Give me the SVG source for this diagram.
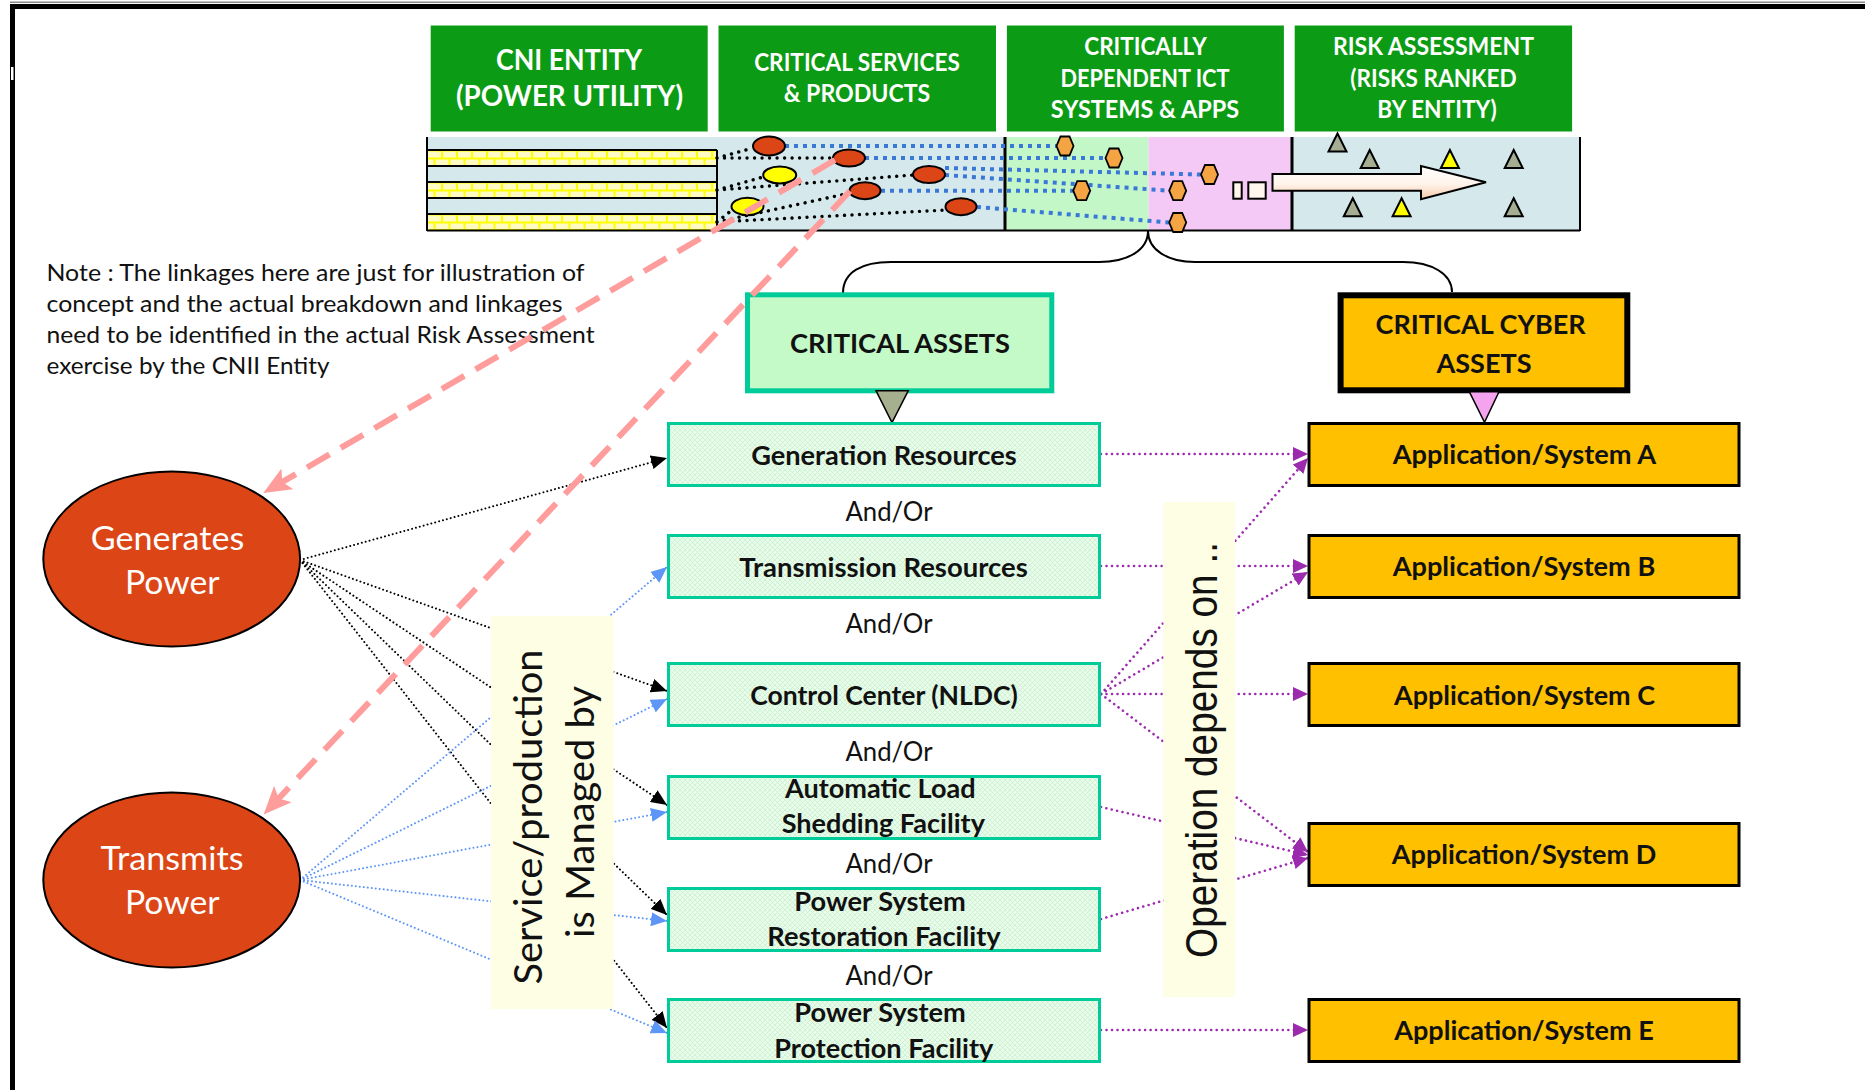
<svg xmlns="http://www.w3.org/2000/svg" width="1865" height="1090" viewBox="0 0 1865 1090">
<defs>
<style>
.sans{font-family:Lato,"Liberation Sans",sans-serif}
.hdr{fill:#0c9b14}
.hdr-t{font-family:Lato,"Liberation Sans",sans-serif;font-weight:700;fill:#fff;text-anchor:middle}
.asset{fill:url(#mint);stroke:#00cc99;stroke-width:3}
.asset-t{font-family:Lato,"Liberation Sans",sans-serif;font-weight:700;font-size:26px;fill:#111;text-anchor:middle}
.andor{font-family:Lato,"Liberation Sans",sans-serif;font-size:26px;fill:#111;text-anchor:middle}
.app{fill:#ffc000;stroke:#000;stroke-width:3}
.app-t{font-family:Lato,"Liberation Sans",sans-serif;font-weight:700;font-size:26px;fill:#111;text-anchor:middle}
.oval{fill:#dc4516;stroke:#000;stroke-width:2}
.oval-t{font-family:Lato,"Liberation Sans",sans-serif;font-size:33px;fill:#fff;text-anchor:middle}
.note{font-family:Lato,"Liberation Sans",sans-serif;font-size:22.8px;fill:#111}
.band{fill:#fefee4}
.dk{fill:none;stroke:#000;stroke-width:2;stroke-dasharray:0.01 4;stroke-linecap:round}
.db{fill:none;stroke:#5e96f7;stroke-width:2;stroke-dasharray:0.01 4;stroke-linecap:round}
.dp{fill:none;stroke:#9c2aae;stroke-width:2.6;stroke-dasharray:0.01 5.5;stroke-linecap:round}
.sk{fill:none;stroke:#000;stroke-width:3.4;stroke-dasharray:0.01 7.5;stroke-linecap:round}
.sb{fill:none;stroke:#3a78d8;stroke-width:4;stroke-dasharray:4 5}
.pk{fill:none;stroke:#ff9c9c;stroke-width:6;stroke-dasharray:26 13}
.red{fill:#dc4516;stroke:#000;stroke-width:2}
.yel{fill:#ffff00;stroke:#000;stroke-width:2}
.hexa{fill:#f4a443;stroke:#000;stroke-width:1.8}
.tri-g{fill:#a5ad93;stroke:#000;stroke-width:2}
.tri-y{fill:#ffff00;stroke:#000;stroke-width:2}
.strip{fill:#d5e9ed}
.edge{fill:none;stroke:#000}
</style>
<pattern id="mint" width="5" height="5" patternUnits="userSpaceOnUse">
<rect width="5" height="5" fill="#e9fbeb"/>
<path d="M0,0 L5,5 M5,0 L0,5" stroke="#c6f0cb" stroke-width="0.8"/>
</pattern>
<pattern id="brick" width="15" height="16" patternUnits="userSpaceOnUse" x="427" y="150">
<rect width="15" height="16" fill="#ffff00"/>
<rect x="1" y="1.5" width="13" height="6" fill="#fffbc2"/>
<rect x="-6.5" y="9.5" width="13" height="5.5" fill="#fffbc2"/>
<rect x="8.5" y="9.5" width="13" height="5.5" fill="#fffbc2"/>
</pattern>
<linearGradient id="arrowfill" x1="0" y1="0" x2="0" y2="1">
<stop offset="0" stop-color="#ffffff"/>
<stop offset="0.55" stop-color="#fff3ea"/>
<stop offset="1" stop-color="#f8c9a6"/>
</linearGradient>
<polygon id="hex" points="-8.5,0 -4.5,-9.5 4.5,-9.5 8.5,0 4.5,9.5 -4.5,9.5"/>
<polygon id="tri" points="0,0 9,18 -9,18"/>
<marker id="ak" markerUnits="userSpaceOnUse" markerWidth="16" markerHeight="14" refX="16" refY="7" orient="auto">
<path d="M0,0 L16,7 L0,14 Z" fill="#000"/>
</marker>
<marker id="ab" markerUnits="userSpaceOnUse" markerWidth="16" markerHeight="14" refX="16" refY="7" orient="auto">
<path d="M0,0 L16,7 L0,14 Z" fill="#5e96f7"/>
</marker>
<marker id="ap" markerUnits="userSpaceOnUse" markerWidth="15" markerHeight="14" refX="15" refY="7" orient="auto">
<path d="M0,0 L15,7 L0,14 Z" fill="#9c2aae"/>
</marker>
<marker id="apk" markerUnits="userSpaceOnUse" markerWidth="28" markerHeight="24" refX="26" refY="12" orient="auto">
<path d="M0,0 L28,12 L0,24 L6,12 Z" fill="#ff9c9c"/>
</marker>
</defs>

<rect width="1865" height="1090" fill="#fff"/>

<!-- page frame -->
<g id="frame">
<rect x="10" y="1.5" width="1855" height="1.5" fill="#8a8a8a"/>
<rect x="10" y="4" width="1855" height="5" fill="#000"/>
<rect x="10" y="4" width="5" height="1086" fill="#000"/>
<rect x="11" y="67" width="2.5" height="13" fill="#fff"/>
</g>

<!-- column headers -->
<g id="hdr-cni">
<rect class="hdr" x="430.7" y="25.5" width="277" height="106"/>
<text class="hdr-t" x="569" y="70" font-size="29" textLength="146" lengthAdjust="spacingAndGlyphs">CNI ENTITY</text>
<text class="hdr-t" x="569.5" y="106" font-size="29" textLength="227" lengthAdjust="spacingAndGlyphs">(POWER UTILITY)</text>
</g>
<g id="hdr-services">
<rect class="hdr" x="718.5" y="25.5" width="277.5" height="106"/>
<text class="hdr-t" x="857" y="71" font-size="24" textLength="205.6" lengthAdjust="spacingAndGlyphs">CRITICAL SERVICES</text>
<text class="hdr-t" x="857" y="101.7" font-size="24" textLength="146.5" lengthAdjust="spacingAndGlyphs">&amp; PRODUCTS</text>
</g>
<g id="hdr-ict">
<rect class="hdr" x="1006.9" y="25.5" width="277" height="106"/>
<text class="hdr-t" x="1145.5" y="55" font-size="24" textLength="122.5" lengthAdjust="spacingAndGlyphs">CRITICALLY</text>
<text class="hdr-t" x="1145" y="87.3" font-size="24" textLength="169" lengthAdjust="spacingAndGlyphs">DEPENDENT ICT</text>
<text class="hdr-t" x="1145" y="118.3" font-size="24" textLength="188.3" lengthAdjust="spacingAndGlyphs">SYSTEMS &amp; APPS</text>
</g>
<g id="hdr-risk">
<rect class="hdr" x="1294.7" y="25.5" width="277.4" height="106"/>
<text class="hdr-t" x="1433.5" y="55" font-size="24" textLength="201" lengthAdjust="spacingAndGlyphs">RISK ASSESSMENT</text>
<text class="hdr-t" x="1433.5" y="87.3" font-size="24" textLength="166.5" lengthAdjust="spacingAndGlyphs">(RISKS RANKED</text>
<text class="hdr-t" x="1437" y="118.3" font-size="24" textLength="119.4" lengthAdjust="spacingAndGlyphs">BY ENTITY)</text>
</g>

<!-- illustration strip under the headers -->
<g id="strip">
<rect class="strip" x="427" y="137" width="578" height="94"/>
<rect x="1005" y="137" width="143.5" height="94" fill="#c4f7c8"/>
<rect x="1148.5" y="137" width="143.5" height="94" fill="#f5c9f5"/>
<rect class="strip" x="1292" y="137" width="288" height="94"/>
<rect x="427" y="150" width="290" height="16" fill="url(#brick)"/>
<rect x="427" y="182" width="290" height="16" fill="url(#brick)"/>
<rect x="427" y="214" width="290" height="16.5" fill="url(#brick)"/>
<path class="edge" stroke-width="2" d="M427,150 H717 M427,166 H717 M427,182 H717 M427,198 H717 M427,214 H717 M717,150 V231"/>
<path class="edge" stroke-width="2" d="M427,137 V231 M1580,137 V231 M427,230.5 H1580"/>
<path class="edge" stroke-width="3" d="M1005,137 V231 M1292,137 V231"/>

<!-- entity to service links -->
<path class="sk" d="M717,158 L753,148 M717,158 L833,158 M717,190 L763,177 M717,190 L913,175 M717,222 L732,210 M717,222 L850,193 M717,222 L946,210"/>
<!-- service to ICT links -->
<path class="sb" d="M785,146 H1056 M865,158 H1106 M945,168 L1201,174.5 M945,175 L1169,190.7 M881,190.7 H1073 M977,207 L1169,222.5"/>

<ellipse class="red" cx="769" cy="146" rx="16" ry="9.5"/>
<ellipse class="red" cx="849" cy="158" rx="16" ry="8.5"/>
<ellipse class="red" cx="929" cy="174.5" rx="16" ry="8.5"/>
<ellipse class="red" cx="865" cy="190.7" rx="15.5" ry="8.5"/>
<ellipse class="red" cx="961" cy="206.7" rx="15.5" ry="8.5"/>
<ellipse class="yel" cx="779.7" cy="175" rx="16.5" ry="8.5"/>
<ellipse class="yel" cx="747.5" cy="206.5" rx="16" ry="8.7"/>

<use href="#hex" class="hexa" x="1065" y="146"/>
<use href="#hex" class="hexa" x="1114" y="158"/>
<use href="#hex" class="hexa" x="1209.5" y="174.5"/>
<use href="#hex" class="hexa" x="1177.7" y="190.7"/>
<use href="#hex" class="hexa" x="1081.7" y="190.7"/>
<use href="#hex" class="hexa" x="1177.7" y="222.5"/>

<rect x="1233.3" y="182.3" width="8.4" height="16.4" fill="#fff6ee" stroke="#000" stroke-width="2"/>
<rect x="1248.3" y="182.3" width="17.4" height="16.4" fill="#fff6ee" stroke="#000" stroke-width="2"/>
<path d="M1272.5,174 L1421,174 L1421,166 L1486,182.3 L1421,199.3 L1421,190.7 L1272.5,190.7 Z" fill="url(#arrowfill)" stroke="#000" stroke-width="2"/>

<use href="#tri" class="tri-g" x="1337.5" y="133.5"/>
<use href="#tri" class="tri-g" x="1369.7" y="150"/>
<use href="#tri" class="tri-y" x="1449.9" y="150"/>
<use href="#tri" class="tri-g" x="1513.7" y="150"/>
<use href="#tri" class="tri-g" x="1352.8" y="198.3"/>
<use href="#tri" class="tri-y" x="1401.6" y="198.3"/>
<use href="#tri" class="tri-g" x="1513.7" y="198.3"/>
</g>

<!-- note -->
<g id="note">
<text class="note" x="46.5" y="281" textLength="538" lengthAdjust="spacingAndGlyphs">Note : The linkages here are just for illustration of</text>
<text class="note" x="46.5" y="312" textLength="516" lengthAdjust="spacingAndGlyphs">concept and the actual breakdown and linkages</text>
<text class="note" x="46.5" y="343" textLength="548" lengthAdjust="spacingAndGlyphs">need to be identified in the actual Risk Assessment</text>
<text class="note" x="46.5" y="374" textLength="283" lengthAdjust="spacingAndGlyphs">exercise by the CNII Entity</text>
</g>

<!-- connectors -->
<g id="connectors">
<path class="edge" stroke-width="2" d="M843,293 C843,272 862,262 891,262 L1099,262 C1128,262 1148,250 1148,231 C1148,250 1168,262 1195,262 L1403,262 C1432,262 1452,274 1452,292"/>
<g marker-end="url(#ak)">
<path class="dk" d="M300,560 L667,458"/>
<path class="dk" d="M300,560 L667,691"/>
<path class="dk" d="M300,560 L667,805"/>
<path class="dk" d="M300,560 L667,915"/>
<path class="dk" d="M300,560 L667,1028"/>
</g>
<g marker-end="url(#ab)">
<path class="db" d="M300,880 L667,567"/>
<path class="db" d="M300,880 L667,699"/>
<path class="db" d="M300,880 L667,812"/>
<path class="db" d="M300,880 L667,921"/>
<path class="db" d="M300,880 L667,1033"/>
</g>
<g marker-end="url(#ap)">
<path class="dp" d="M1101,454 L1308,454"/>
<path class="dp" d="M1101,566 L1308,566"/>
<path class="dp" d="M1101,694 L1308,458"/>
<path class="dp" d="M1101,694 L1308,572"/>
<path class="dp" d="M1101,694 L1308,694"/>
<path class="dp" d="M1101,694 L1308,852"/>
<path class="dp" d="M1101,807 L1308,855"/>
<path class="dp" d="M1101,919 L1308,858"/>
<path class="dp" d="M1101,1030 L1308,1030"/>
</g>
</g>

<!-- relation labels -->
<g id="label-managed">
<rect class="band" x="491" y="616" width="122.8" height="393"/>
<text class="sans" font-size="39" fill="#111" text-anchor="middle" transform="translate(542.4 817) rotate(-90)" textLength="335" lengthAdjust="spacingAndGlyphs">Service/production</text>
<text class="sans" font-size="39" fill="#111" text-anchor="middle" transform="translate(593.7 812) rotate(-90)" textLength="252" lengthAdjust="spacingAndGlyphs">is Managed by</text>
</g>
<g id="label-depends">
<rect class="band" x="1163.4" y="502" width="71.6" height="495"/>
<text font-family="'Liberation Sans',Arial,sans-serif" font-size="44" fill="#111" text-anchor="middle" transform="translate(1217 750) rotate(-90)" textLength="416" lengthAdjust="spacingAndGlyphs">Operation depends on ..</text>
</g>

<!-- services -->
<g id="node-generates">
<ellipse class="oval" cx="171.7" cy="559" rx="128.4" ry="87.5"/>
<text class="oval-t" x="167.5" y="550" textLength="153.6" lengthAdjust="spacingAndGlyphs">Generates</text>
<text class="oval-t" x="172.3" y="594.4" textLength="94.6" lengthAdjust="spacingAndGlyphs">Power</text>
</g>
<g id="node-transmits">
<ellipse class="oval" cx="171.7" cy="880" rx="128.4" ry="87.5"/>
<text class="oval-t" x="172" y="869.5" textLength="143" lengthAdjust="spacingAndGlyphs">Transmits</text>
<text class="oval-t" x="172.3" y="914" textLength="94.6" lengthAdjust="spacingAndGlyphs">Power</text>
</g>

<!-- critical assets -->
<g id="node-critical-assets">
<rect x="747.5" y="294.8" width="304.3" height="96" fill="#c4f9c8" stroke="#00cc99" stroke-width="5"/>
<text class="asset-t" x="900" y="352.7" font-size="28.5" textLength="220" lengthAdjust="spacingAndGlyphs">CRITICAL ASSETS</text>
<polygon points="876,390.7 908.3,390.7 892,422.7" fill="#a6b08e" stroke="#000" stroke-width="1.5"/>
</g>
<g id="node-generation">
<rect class="asset" x="668.5" y="423.5" width="431" height="62"/>
<text class="asset-t" x="884" y="465" textLength="265.7" lengthAdjust="spacingAndGlyphs">Generation Resources</text>
</g>
<text class="andor" x="889" y="520.7" textLength="87" lengthAdjust="spacingAndGlyphs">And/Or</text>
<g id="node-transmission">
<rect class="asset" x="668.5" y="535.5" width="431" height="62"/>
<text class="asset-t" x="883.5" y="576.7" textLength="288.4" lengthAdjust="spacingAndGlyphs">Transmission Resources</text>
</g>
<text class="andor" x="889" y="632.7" textLength="87" lengthAdjust="spacingAndGlyphs">And/Or</text>
<g id="node-control-center">
<rect class="asset" x="668.5" y="663.5" width="431" height="62"/>
<text class="asset-t" x="884" y="705" textLength="267.7" lengthAdjust="spacingAndGlyphs">Control Center (NLDC)</text>
</g>
<text class="andor" x="889" y="761" textLength="87" lengthAdjust="spacingAndGlyphs">And/Or</text>
<g id="node-load-shedding">
<rect class="asset" x="668.5" y="776.5" width="431" height="62"/>
<text class="asset-t" x="880.3" y="798.3" textLength="190.7" lengthAdjust="spacingAndGlyphs">Automatic Load</text>
<text class="asset-t" x="883.3" y="833.3" textLength="203.3" lengthAdjust="spacingAndGlyphs">Shedding Facility</text>
</g>
<text class="andor" x="889" y="872.7" textLength="87" lengthAdjust="spacingAndGlyphs">And/Or</text>
<g id="node-restoration">
<rect class="asset" x="668.5" y="888.5" width="431" height="62"/>
<text class="asset-t" x="880" y="910.7" textLength="171.4" lengthAdjust="spacingAndGlyphs">Power System</text>
<text class="asset-t" x="884" y="946" textLength="233.4" lengthAdjust="spacingAndGlyphs">Restoration Facility</text>
</g>
<text class="andor" x="889" y="985" textLength="87" lengthAdjust="spacingAndGlyphs">And/Or</text>
<g id="node-protection">
<rect class="asset" x="668.5" y="999.5" width="431" height="62"/>
<text class="asset-t" x="880" y="1022.3" textLength="171.4" lengthAdjust="spacingAndGlyphs">Power System</text>
<text class="asset-t" x="883.8" y="1057.7" textLength="219" lengthAdjust="spacingAndGlyphs">Protection Facility</text>
</g>

<!-- critical cyber assets -->
<g id="node-critical-cyber">
<rect x="1340.6" y="295.3" width="286.7" height="95" fill="#ffc000" stroke="#000" stroke-width="6"/>
<text class="app-t" x="1480.6" y="334" font-size="27" textLength="210" lengthAdjust="spacingAndGlyphs">CRITICAL CYBER</text>
<text class="app-t" x="1484" y="372.7" font-size="27" textLength="95" lengthAdjust="spacingAndGlyphs">ASSETS</text>
<polygon points="1469.3,391.7 1499,391.7 1484.5,422.3" fill="#f4a3ee" stroke="#000" stroke-width="1.5"/>
</g>
<g id="node-app-a">
<rect class="app" x="1309" y="423.5" width="430" height="62"/>
<text class="app-t" x="1524.5" y="464" textLength="263.5" lengthAdjust="spacingAndGlyphs">Application/System A</text>
</g>
<g id="node-app-b">
<rect class="app" x="1309" y="535.5" width="430" height="62"/>
<text class="app-t" x="1524" y="576" textLength="262.5" lengthAdjust="spacingAndGlyphs">Application/System B</text>
</g>
<g id="node-app-c">
<rect class="app" x="1309" y="663.5" width="430" height="62"/>
<text class="app-t" x="1524.5" y="705" textLength="261" lengthAdjust="spacingAndGlyphs">Application/System C</text>
</g>
<g id="node-app-d">
<rect class="app" x="1309" y="823.5" width="430" height="62"/>
<text class="app-t" x="1524" y="864.3" textLength="264.4" lengthAdjust="spacingAndGlyphs">Application/System D</text>
</g>
<g id="node-app-e">
<rect class="app" x="1309" y="999.5" width="430" height="62"/>
<text class="app-t" x="1524" y="1040" textLength="259.6" lengthAdjust="spacingAndGlyphs">Application/System E</text>
</g>

<!-- dashed pointers from the strip down to the services -->
<g id="connectors-overlay" marker-end="url(#apk)">
<path class="pk" d="M835,160 L265,492"/>
<path class="pk" d="M850,191 L265,813"/>
</g>
</svg>
